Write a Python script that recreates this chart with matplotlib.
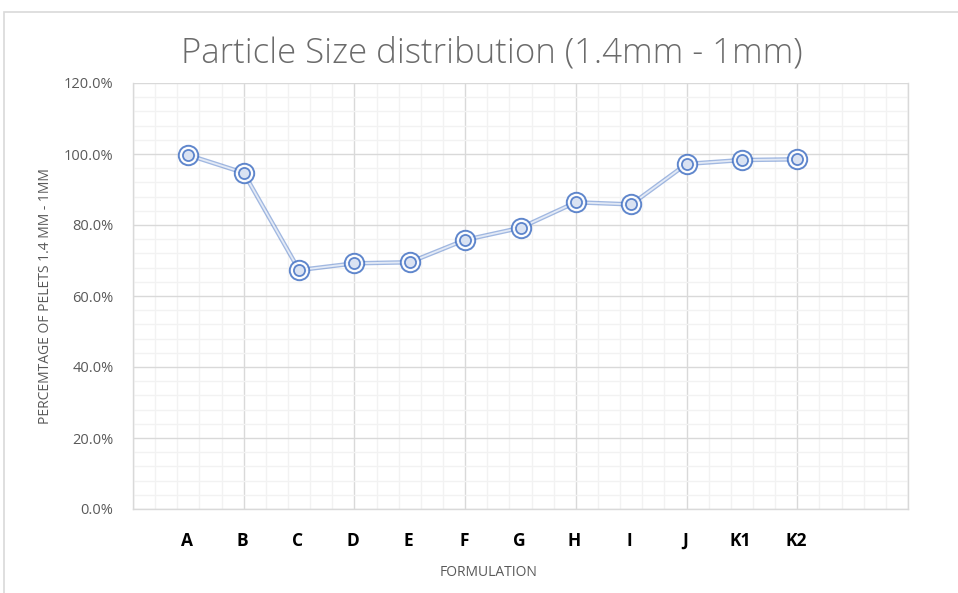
import matplotlib.pyplot as plt
from matplotlib.ticker import MultipleLocator, FuncFormatter
from matplotlib.patches import Rectangle

# data
formulations = ['A', 'B', 'C', 'D', 'E', 'F', 'G', 'H', 'I', 'J', 'K1', 'K2']
x_pos = [0.5, 1.0, 1.5, 2.0, 2.5, 3.0, 3.5, 4.0, 4.5, 5.0, 5.5, 6.0]
pct_pelets = [99.7, 94.7, 67.3, 69.2, 69.5, 75.8, 79.2, 86.4, 85.8, 97.2, 98.3, 98.5]

blue = '#4472C4'
gray_txt = '#595959'
font = 'Open Sans'

fig = plt.figure(figsize=(9.58, 5.93), dpi=100)
W, H = 958, 593

# outer chart border
fig.patches.append(Rectangle((4 / W, -0.1), 1.2, 1 - 12 / H + 0.1, transform=fig.transFigure,
                             fill=False, edgecolor='#D9D9D9', linewidth=1.2))

ax = fig.add_axes([133 / W, 1 - 509 / H, (908 - 133) / W, (509 - 83) / H])
ax.set_xlim(0, 7)
ax.set_ylim(0, 120)

ax.xaxis.set_major_locator(MultipleLocator(1))
ax.xaxis.set_minor_locator(MultipleLocator(0.2))
ax.yaxis.set_major_locator(MultipleLocator(20))
ax.yaxis.set_minor_locator(MultipleLocator(4))
ax.grid(which='major', color='#D9D9D9', linewidth=1.0)
ax.grid(which='minor', color='#F2F2F2', linewidth=1.0)
ax.set_axisbelow(True)
for s in ax.spines.values():
    s.set_color('#D9D9D9')
    s.set_linewidth(1.0)
ax.spines['top'].set_visible(False)

ax.tick_params(axis='x', which='both', length=0, labelbottom=False)
ax.tick_params(axis='y', which='both', length=0, labelsize=10.5, labelcolor=gray_txt, pad=14)
ax.yaxis.set_major_formatter(FuncFormatter(lambda v, p: f'{v:.1f}%'))
for lab in ax.get_yticklabels():
    lab.set_fontfamily(font)

# compound (double) line
ax.plot(x_pos, pct_pelets, color=blue, linewidth=3.2, alpha=0.5, zorder=3, solid_capstyle='round')
ax.plot(x_pos, pct_pelets, color='#E3EAF6', linewidth=1.3, zorder=4)
# double ring markers
ax.plot(x_pos, pct_pelets, linestyle='none', marker='o', markersize=14,
        markerfacecolor='white', markeredgecolor=blue, markeredgewidth=1.4, alpha=0.85, zorder=5)
ax.plot(x_pos, pct_pelets, linestyle='none', marker='o', markersize=8,
        markerfacecolor='#D5DFF1', markeredgecolor=blue, markeredgewidth=1.3, alpha=0.85, zorder=6)

# category labels under the axis
for name, xv in zip(formulations, x_pos):
    ax.annotate(name, xy=(xv, 0), xycoords='data', xytext=(-1, -23), textcoords='offset points',
                ha='center', va='center', fontsize=12.5, fontweight='bold', color='black',
                fontfamily=font)

fig.text(489 / W, 1 - 572 / H, 'FORMULATION', ha='center', va='center', fontsize=10,
         color=gray_txt, fontfamily=font)
fig.text(46 / W, 1 - 296 / H, 'PERCEMTAGE OF PELETS 1.4 MM - 1MM', ha='center', va='center',
         rotation=90, fontsize=10, color=gray_txt, fontfamily=font)
fig.text(492 / W, 1 - 53 / H, 'Particle Size distribution (1.4mm - 1mm)', ha='center', va='center',
         fontsize=25, fontweight='light', color='#6B6B6B', fontfamily=font)

fig.savefig('out.png', dpi=100, facecolor='white')
